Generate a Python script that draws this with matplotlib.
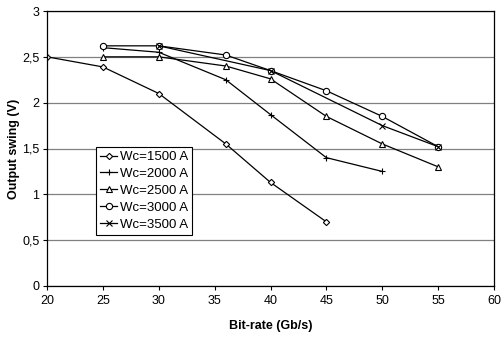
import matplotlib
matplotlib.use('Agg')
import matplotlib.pyplot as plt
from matplotlib.ticker import FuncFormatter

plt.rcParams['font.family'] = ['Liberation Sans', 'DejaVu Sans']

x1500 = [20, 25, 30, 36, 40, 45]
y1500 = [2.5, 2.39, 2.1, 1.55, 1.13, 0.7]
x2000 = [25, 30, 36, 40, 45, 50]
y2000 = [2.6, 2.55, 2.25, 1.87, 1.4, 1.25]
x2500 = [25, 30, 36, 40, 45, 50, 55]
y2500 = [2.5, 2.5, 2.4, 2.26, 1.85, 1.55, 1.3]
x3000 = [25, 30, 36, 40, 45, 50, 55]
y3000 = [2.62, 2.62, 2.52, 2.35, 2.13, 1.85, 1.52]
x3500 = [30, 40, 50, 55]
y3500 = [2.62, 2.35, 1.75, 1.52]

series = [
    ('Wc=1500 A', x1500, y1500, 'D', 3.2),
    ('Wc=2000 A', x2000, y2000, '+', 5),
    ('Wc=2500 A', x2500, y2500, '^', 4.5),
    ('Wc=3000 A', x3000, y3000, 'o', 4.5),
    ('Wc=3500 A', x3500, y3500, 'x', 4.5),
]

fig = plt.figure(figsize=(5.02, 3.40), dpi=100)
ax = fig.add_axes([47/502, 1-286/340, (494-47)/502, (286-11)/340])

for label, xs, ys, mk, ms in series:
    ax.plot(xs, ys, color='black', linewidth=0.9, marker=mk, markersize=ms,
            markerfacecolor='white', markeredgecolor='black', markeredgewidth=0.8,
            label=label)

ax.set_xlim(20, 60)
ax.set_ylim(0, 3)
ax.set_xticks(range(20, 61, 5))
ax.set_yticks([0, 0.5, 1, 1.5, 2, 2.5, 3])
ax.yaxis.set_major_formatter(FuncFormatter(lambda v, p: ('%g' % v).replace('.', ',')))
ax.yaxis.grid(True, color='#808080', linewidth=0.9)
ax.set_axisbelow(True)
ax.tick_params(labelsize=9, length=3, width=0.8)
ax.tick_params(axis='y', pad=2.5)
for s in ax.spines.values():
    s.set_linewidth(0.9)

ax.set_xlabel('Bit-rate (Gb/s)', fontsize=9, fontweight='bold', va='center')
ax.set_ylabel('Output swing (V)', fontsize=9, fontweight='bold', va='center')
ax.xaxis.set_label_coords(0.5, (286-326)/275)
ax.yaxis.set_label_coords((14-47)/447, 0.5)

leg = ax.legend(loc='upper left', bbox_to_anchor=((96-47)/447, (286-147)/275),
                fontsize=9.5, frameon=True, fancybox=False, framealpha=1,
                edgecolor='black', handlelength=1.3, handletextpad=0.2,
                labelspacing=0.35, borderpad=0.3, borderaxespad=0)
leg.get_frame().set_linewidth(0.8)

fig.savefig('out.png', dpi=100)
